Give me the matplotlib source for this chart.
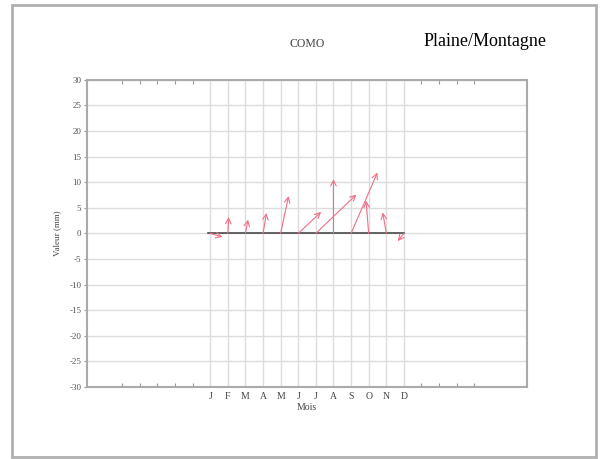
import matplotlib.pyplot as plt
from matplotlib.patches import Rectangle

# month positions and arrow components (u: horizontal, v: value in mm)
months = ["J", "F", "M", "A", "M", "J", "J", "A", "S", "O", "N", "D"]
month_pos = [1, 2, 3, 4, 5, 6, 7, 8, 9, 10, 11, 12]
u_comp = [0.7, 0.05, 0.15, 0.2, 0.45, 1.3, 2.3, 0.0, 1.5, -0.15, -0.2, -0.35]
v_comp = [-0.7, 3.2, 2.7, 4.0, 7.3, 4.2, 7.6, 10.6, 11.9, 6.4, 4.1, -1.5]
side_ticks = [-4, -3, -2, -1, 0, 13, 14, 15, 16]
y_ticks = list(range(-30, 31, 5))

serif = "Liberation Serif"
arrow_color = "#ef6f86"

fig = plt.figure(figsize=(6.08, 4.59), dpi=100)
fig.patches.append(Rectangle((12 / 608, 2 / 459), 584 / 608, 452 / 459,
                             transform=fig.transFigure, fill=False,
                             edgecolor="#b0b0b0", linewidth=2.0))

ax = fig.add_axes([0.143, 0.157, 0.724, 0.669])
ax.set_xlim(-6, 19)
ax.set_ylim(-30, 30)

ax.set_xticks(month_pos)
ax.set_xticklabels(months, fontsize=7, family=serif, color="#444444")
ax.set_xticks(side_ticks, minor=True)
ax.set_yticks(y_ticks)
ax.set_yticklabels([str(t) for t in y_ticks], fontsize=6.5, family=serif, color="#555555")
ax.tick_params(axis="x", which="major", length=0, pad=4)
ax.tick_params(axis="x", which="minor", direction="in", length=3, top=True,
               color="#999999", width=0.8)
ax.tick_params(axis="y", which="major", length=2, color="#999999", pad=2)

ax.grid(True, which="major", color="#dcdcdc", linewidth=1.0)
for s in ax.spines.values():
    s.set_color("#aaaaaa")
    s.set_linewidth(1.5)

ax.plot([month_pos[0] - 0.1, month_pos[-1]], [0, 0], color="#4a4a4a", linewidth=1.2, zorder=3)

for x0, du, dv in zip(month_pos, u_comp, v_comp):
    ax.annotate("", xy=(x0 + du, dv), xytext=(x0, 0),
                arrowprops=dict(arrowstyle="->,head_length=0.4,head_width=0.2",
                                color=arrow_color, linewidth=0.8, shrinkA=0, shrinkB=0),
                zorder=4)

ax.set_title("COMO", fontsize=8.5, family=serif, color="#444444", pad=24)
ax.set_xlabel("Mois", fontsize=7, family=serif, color="#444444", labelpad=1)
ax.set_ylabel("Valeur (mm)", fontsize=6.5, family=serif, color="#444444", labelpad=6)

fig.text(485 / 608, 1 - 41 / 459, "Plaine/Montagne", fontsize=13, family=serif,
         ha="center", va="center", color="black")

fig.savefig("out.png", dpi=100)
